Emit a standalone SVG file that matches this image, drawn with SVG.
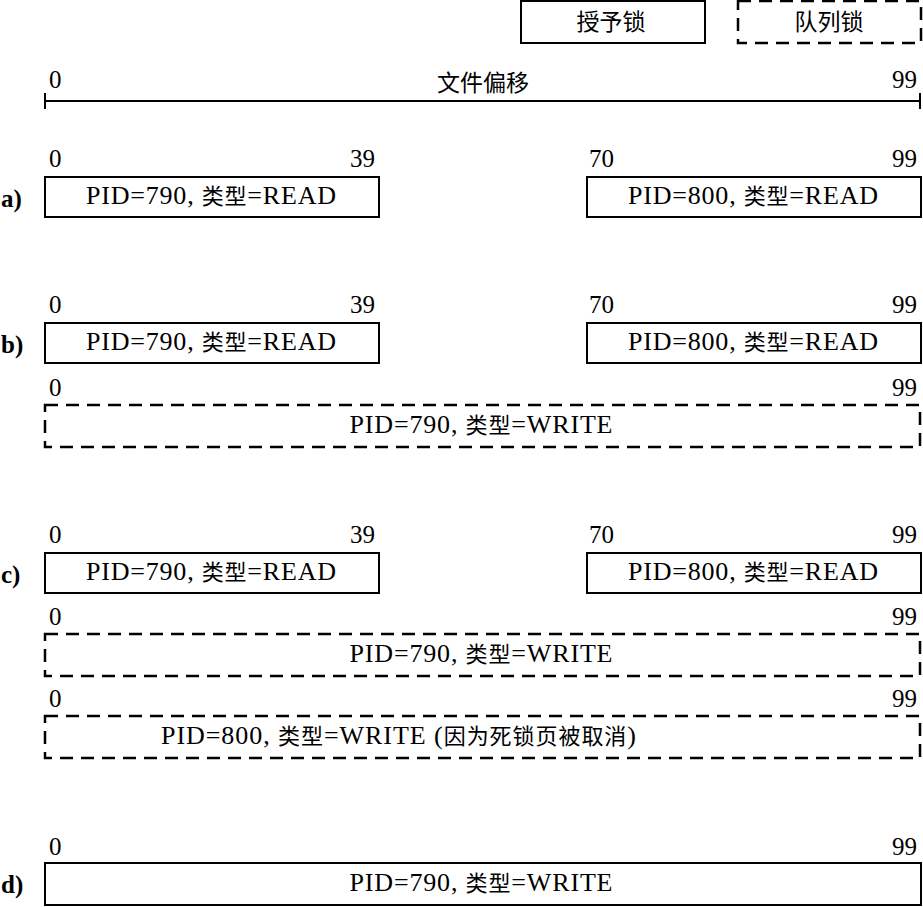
<svg xmlns="http://www.w3.org/2000/svg" width="923" height="907" viewBox="0 0 923 907">
<style>
text{font-family:"Liberation Serif",serif;font-size:26px;fill:#000}
.n{font-size:25px}
.cjk{font-family:"Noto Sans CJK SC",sans-serif;font-size:22px}
.leg{font-family:"Noto Sans CJK SC",sans-serif;font-size:23px}
.c{text-anchor:middle}
.r{text-anchor:end}
.lbl{font-weight:bold;font-size:25px}
.solid{fill:#fff;stroke:#000;stroke-width:2}
.dash{fill:#fff;stroke:#000;stroke-width:2.5;stroke-dasharray:13 8}
.ax{stroke:#000;stroke-width:2;fill:none}
</style>
<rect width="923" height="907" fill="#fff"/>
<g id="legend-granted"><rect class="solid" x="521" y="1" width="184" height="42"/><text class="c leg" x="611" y="30">授予锁</text></g>
<g id="legend-queued"><rect class="dash" x="738" y="1" width="183" height="42"/><text class="c leg" x="829" y="30">队列锁</text></g>
<g id="axis">
<path class="ax" d="M45,101H920M45,93V109M920,93V109"/>
<text class="n" x="49" y="88">0</text><text class="n r" x="917" y="88">99</text><text class="c leg" x="483" y="91">文件偏移</text>
</g>
<g id="row-a">
<text class="lbl" x="1" y="207">a)</text>
<text class="n" x="49" y="167">0</text><text class="n r" x="375" y="167">39</text>
<text class="n" x="589" y="167">70</text><text class="n r" x="917" y="167">99</text>
<g id="a-790"><rect class="solid" x="45" y="177" width="334" height="40"/><text class="c" x="211" y="204" textLength="250" lengthAdjust="spacing">PID=790, <tspan class="cjk">类型</tspan>=READ</text></g>
<g id="a-800"><rect class="solid" x="587" y="177" width="334" height="40"/><text class="c" x="753" y="204" textLength="250" lengthAdjust="spacing">PID=800, <tspan class="cjk">类型</tspan>=READ</text></g>
</g>
<g id="row-b">
<text class="lbl" x="1" y="353">b)</text>
<text class="n" x="49" y="313">0</text><text class="n r" x="375" y="313">39</text>
<text class="n" x="589" y="313">70</text><text class="n r" x="917" y="313">99</text>
<g id="b-790"><rect class="solid" x="45" y="323" width="334" height="40"/><text class="c" x="211" y="350" textLength="250" lengthAdjust="spacing">PID=790, <tspan class="cjk">类型</tspan>=READ</text></g>
<g id="b-800"><rect class="solid" x="587" y="323" width="334" height="40"/><text class="c" x="753" y="350" textLength="250" lengthAdjust="spacing">PID=800, <tspan class="cjk">类型</tspan>=READ</text></g>
<text class="n" x="49" y="396">0</text><text class="n r" x="917" y="396">99</text>
<g id="b-790w"><rect class="dash" x="45" y="405" width="875" height="42"/><text class="c" x="481" y="433" textLength="263" lengthAdjust="spacing">PID=790, <tspan class="cjk">类型</tspan>=WRITE</text></g>
</g>
<g id="row-c">
<text class="lbl" x="1" y="583">c)</text>
<text class="n" x="49" y="543">0</text><text class="n r" x="375" y="543">39</text>
<text class="n" x="589" y="543">70</text><text class="n r" x="917" y="543">99</text>
<g id="c-790"><rect class="solid" x="45" y="553" width="334" height="40"/><text class="c" x="211" y="580" textLength="250" lengthAdjust="spacing">PID=790, <tspan class="cjk">类型</tspan>=READ</text></g>
<g id="c-800"><rect class="solid" x="587" y="553" width="334" height="40"/><text class="c" x="753" y="580" textLength="250" lengthAdjust="spacing">PID=800, <tspan class="cjk">类型</tspan>=READ</text></g>
<text class="n" x="49" y="625">0</text><text class="n r" x="917" y="625">99</text>
<g id="c-790w"><rect class="dash" x="45" y="634" width="875" height="42"/><text class="c" x="481" y="662" textLength="263" lengthAdjust="spacing">PID=790, <tspan class="cjk">类型</tspan>=WRITE</text></g>
<text class="n" x="49" y="707">0</text><text class="n r" x="917" y="707">99</text>
<g id="c-800w"><rect class="dash" x="45" y="716" width="875" height="42"/><text x="161" y="744" textLength="475" lengthAdjust="spacing">PID=800, <tspan class="cjk">类型</tspan>=WRITE (<tspan class="cjk">因为死锁页被取消</tspan>)</text></g>
</g>
<g id="row-d">
<text class="lbl" x="1" y="893">d)</text>
<text class="n" x="49" y="855">0</text><text class="n r" x="917" y="855">99</text>
<g id="d-790w"><rect class="solid" x="45" y="863" width="876" height="42"/><text class="c" x="481" y="891" textLength="263" lengthAdjust="spacing">PID=790, <tspan class="cjk">类型</tspan>=WRITE</text></g>
</g>
</svg>
